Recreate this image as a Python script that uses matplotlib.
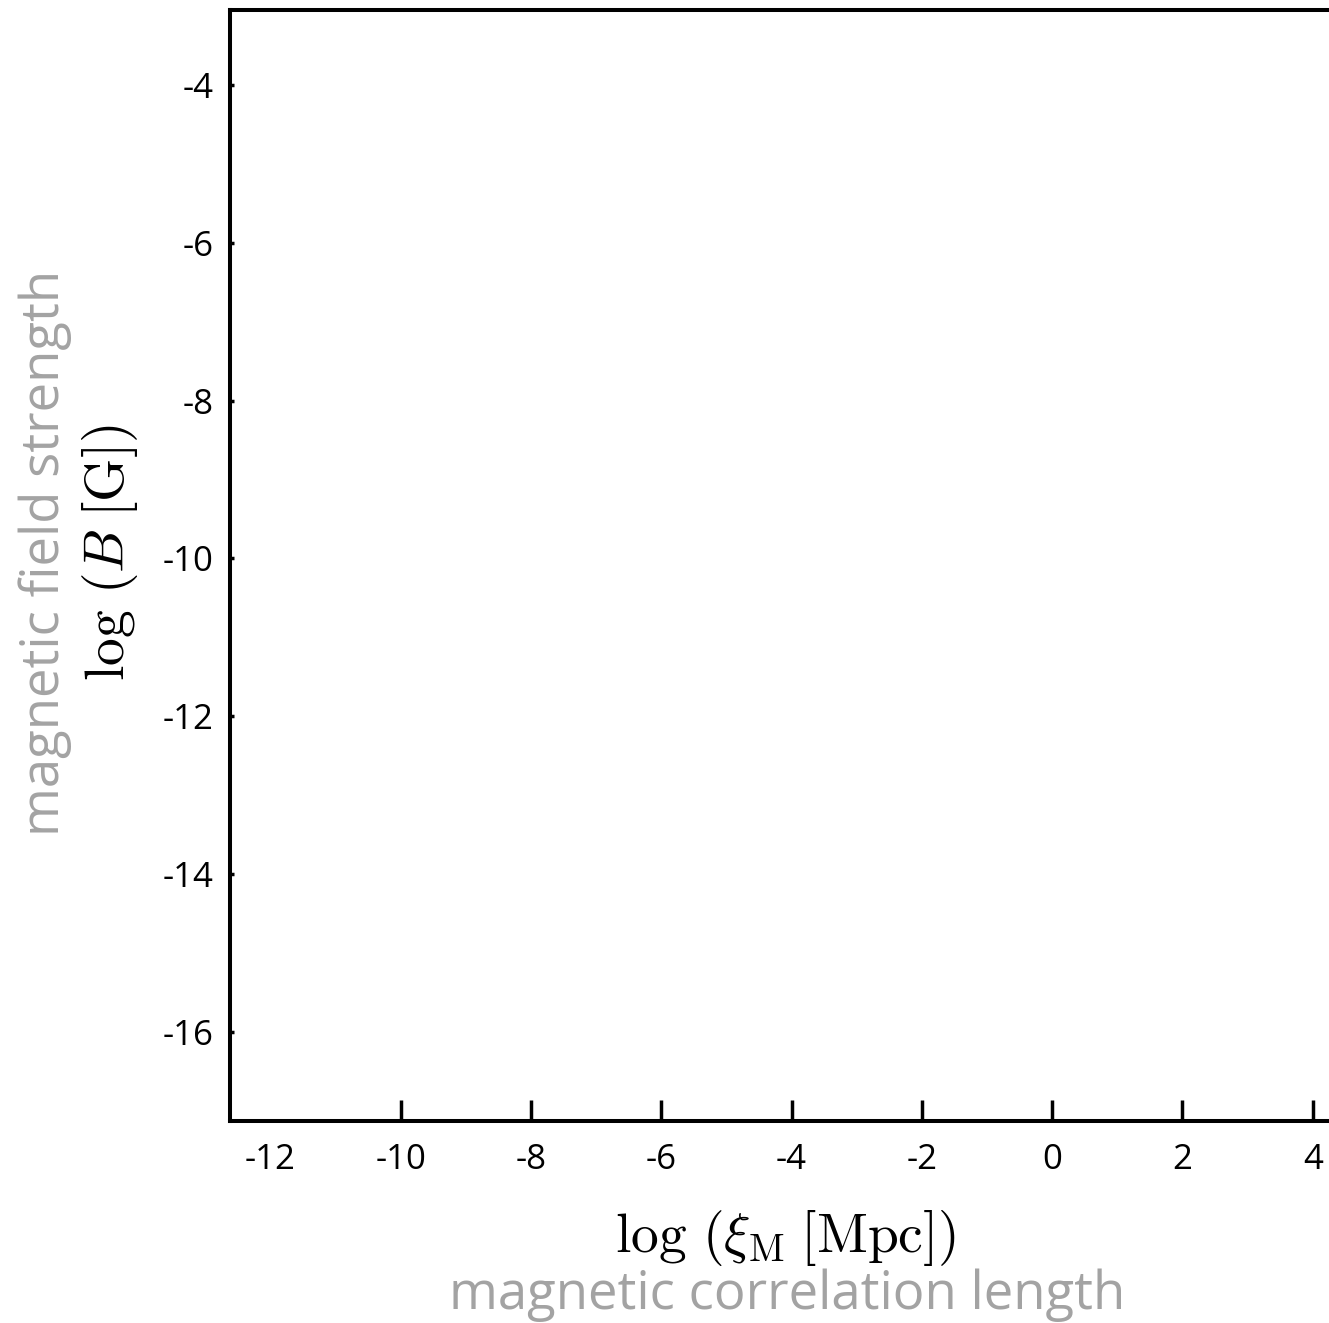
import matplotlib.pyplot as plt

# axis ranges and ticks
x_ticks = [-12, -10, -8, -6, -4, -2, 0, 2, 4]
y_ticks = [-4, -6, -8, -10, -12, -14, -16]
x_range = (-12.62, 4.29)
y_range = (-17.13, -3.05)

plt.rcParams['mathtext.fontset'] = 'cm'
tick_font = 'Open Sans'
gray = '#a3a3a3'

fig = plt.figure(figsize=(13.29, 13.23), dpi=100)
ax = fig.add_axes([230 / 1329, 1 - 1121 / 1323, 1 - 230 / 1329 + 0.002, (1121 - 10) / 1323])

ax.set_xlim(*x_range)
ax.set_ylim(*y_range)

for side in ['left', 'bottom', 'top']:
    ax.spines[side].set_linewidth(2.9)
ax.spines['right'].set_visible(False)

ax.set_xticks(x_ticks)
ax.set_xticklabels([str(t) for t in x_ticks], fontname=tick_font, fontsize=25)
ax.set_yticks(y_ticks)
ax.set_yticklabels([str(t) for t in y_ticks], fontname=tick_font, fontsize=25)
ax.tick_params(axis='x', direction='in', length=15, width=2.5, pad=16)
ax.tick_params(axis='y', direction='in', length=3, width=2.5, pad=12)
# the -12 label has no tick mark in the reference
ax.xaxis.get_major_ticks()[0].tick1line.set_visible(False)

# axis titles
fig.text(786 / 1329, 1 - 1238 / 1323, r'$\log\,(\xi_{\rm M}\;[{\rm Mpc}])$',
         fontsize=40, ha='center', va='center')
fig.text(787 / 1329, 1 - 1295 / 1323, 'magnetic correlation length', color=gray,
         fontname=tick_font, fontsize=38, ha='center', va='center')
fig.text(110 / 1329, 1 - 553 / 1323, r'$\log\,(B\;[{\rm G}])$',
         fontsize=40, ha='center', va='center', rotation=90)
fig.text(45 / 1329, 1 - 553 / 1323, 'magnetic field strength', color=gray,
         fontname=tick_font, fontsize=38, ha='center', va='center', rotation=90)

fig.savefig('out.png', dpi=100)
plt.close(fig)
